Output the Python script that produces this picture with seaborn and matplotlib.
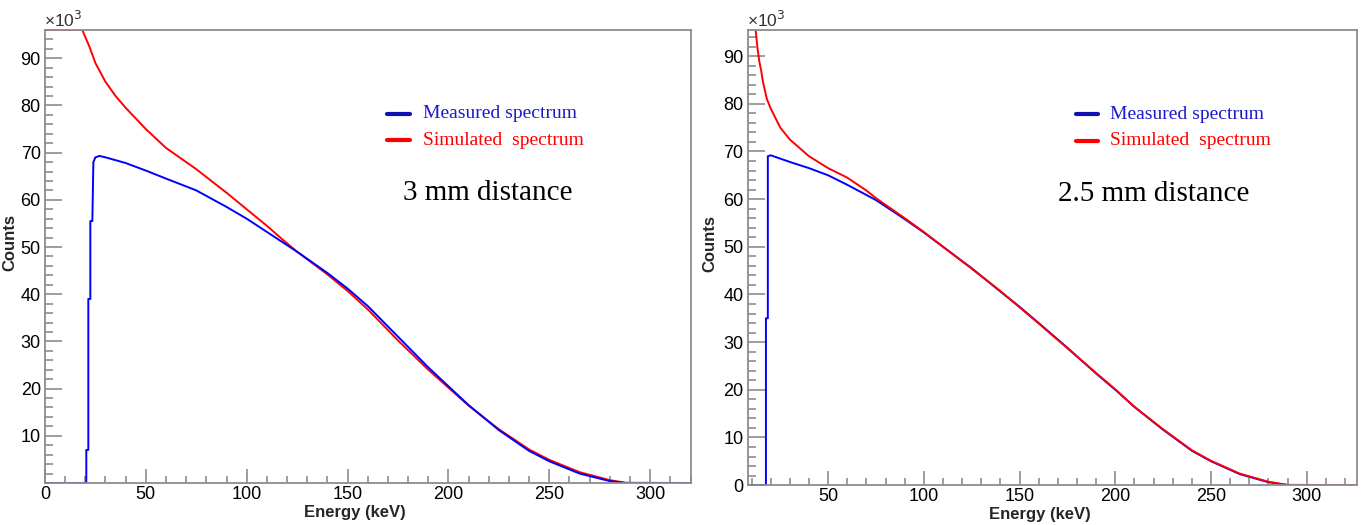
import numpy as np
import pandas as pd
import matplotlib
matplotlib.use("Agg")
import matplotlib.pyplot as plt
import seaborn as sns
from matplotlib.ticker import MultipleLocator

# 資料 (counts in units of 10^3, energy in keV)
# 3 mm distance
e_meas_3 = [0, 20.5, 20.5, 21.5, 21.5, 22.5, 22.5, 23.5, 24, 25, 27, 30, 40, 50, 60, 75,
            90, 100, 110, 125, 140, 150, 160, 175, 190, 200, 210, 225, 240, 250, 265, 280, 288, 320]
c_meas_3 = [0, 0, 7, 7, 39, 39, 55.5, 55.5, 68, 69, 69.3, 69, 67.8, 66.2, 64.5, 62,
            58.5, 56, 53.2, 49, 44.5, 41.2, 37.5, 31, 24.5, 20.5, 16.5, 11.2, 6.8, 4.6, 2, 0.4, 0, 0]
e_sim_3 = [0, 18.5, 22, 25, 30, 35, 40, 50, 60, 75, 90, 100, 110, 118, 125, 140,
           150, 160, 175, 190, 200, 210, 225, 240, 250, 265, 280, 288, 320]
c_sim_3 = [96, 96, 92.5, 89, 85, 82, 79.5, 75, 71, 66.5, 61.5, 58, 54.5, 51.5, 49, 44.2,
           40.7, 36.8, 30.2, 24, 20.2, 16.4, 11.4, 7.1, 4.9, 2.3, 0.6, 0.05, 0]

# 2.5 mm distance
e_meas_25 = [8, 17.5, 17.5, 18.5, 18.5, 20, 25, 30, 40, 50, 60, 75, 90, 100, 110, 125,
             140, 150, 160, 175, 190, 200, 210, 225, 240, 250, 265, 280, 290, 326]
c_meas_25 = [0, 0, 35, 35, 69, 69.2, 68.5, 67.8, 66.5, 65, 63, 59.8, 55.8, 53, 50, 45.5,
             40.6, 37.4, 34, 28.8, 23.4, 20, 16.4, 11.6, 7.2, 5, 2.3, 0.6, 0, 0]
e_sim_25 = [12, 13, 14, 15, 16, 18, 20, 25, 30, 40, 50, 60, 70, 75, 90, 100, 110, 125,
            140, 150, 160, 175, 190, 200, 210, 225, 240, 250, 265, 280, 290, 326]
c_sim_25 = [96, 92, 89, 87, 84.5, 81, 79, 75, 72.5, 69, 66.5, 64.5, 61.8, 60.2, 56, 53.1, 50, 45.4,
            40.7, 37.3, 33.9, 28.7, 23.5, 20.1, 16.4, 11.7, 7.3, 5.1, 2.4, 0.7, 0.05, 0]

panels = [
    dict(meas=(e_meas_3, c_meas_3), sim=(e_sim_3, c_sim_3), xlim=(0, 320), ylim=(0, 96),
         label="3 mm distance", pos=[0.033, 0.080, 0.474, 0.863]),
    dict(meas=(e_meas_25, c_meas_25), sim=(e_sim_25, c_sim_25), xlim=(8, 326), ylim=(0, 95.5),
         label="2.5 mm distance", pos=[0.549, 0.076, 0.447, 0.867]),
]

sns.set_style("white")
plt.rcParams["font.family"] = ["Liberation Sans", "DejaVu Sans"]

fig = plt.figure(figsize=(13.62, 5.25), dpi=100)
frame_col = "#8c8c8c"

for i, p in enumerate(panels):
    ax = fig.add_axes(p["pos"])
    df_m = pd.DataFrame({"Energy": p["meas"][0], "Counts": p["meas"][1]})
    df_s = pd.DataFrame({"Energy": p["sim"][0], "Counts": p["sim"][1]})
    # 3 mm: red drawn first, blue on top; 2.5 mm: red on top
    order = [(df_s, "#ff0000"), (df_m, "#0000ff")] if i == 0 else [(df_m, "#0000ff"), (df_s, "#ff0000")]
    for d, c in order:
        sns.lineplot(data=d, x="Energy", y="Counts", color=c, lw=1.4, ax=ax,
                     estimator=None, sort=False)
    ax.set_xlim(*p["xlim"])
    ax.set_ylim(*p["ylim"])
    ax.xaxis.set_major_locator(MultipleLocator(50))
    ax.xaxis.set_minor_locator(MultipleLocator(10))
    ax.yaxis.set_major_locator(MultipleLocator(10))
    ax.yaxis.set_minor_locator(MultipleLocator(2))
    ax.tick_params(which="both", direction="in", colors=frame_col, labelcolor="black",
                   labelsize=13, bottom=True, left=True, top=False, right=False, width=1.2)
    ax.tick_params(axis="x", which="major", length=10, pad=2)
    ax.tick_params(axis="x", which="minor", length=5)
    ax.tick_params(axis="y", which="major", length=12, pad=3)
    ax.tick_params(axis="y", which="minor", length=6)
    if i == 0:
        ax.set_yticks([10, 20, 30, 40, 50, 60, 70, 80, 90])
    for s in ax.spines.values():
        s.set_color(frame_col)
        s.set_linewidth(1.3)
    ax.set_xlabel("Energy (keV)", fontsize=12, fontweight="bold")
    ax.xaxis.set_label_coords(0.48, -0.048)
    ax.set_ylabel("Counts", fontsize=12, fontweight="bold")
    ax.yaxis.set_label_coords(-0.042 if i == 0 else -0.05, 0.53)
    ax.text(-0.002, 1.0, "×10$^3$", transform=ax.transAxes, ha="left", va="bottom",
            fontsize=12.5, color="#333333")

    # legend
    x0 = 0.53 if i == 0 else 0.54
    ax.plot([x0, x0 + 0.035], [0.815, 0.815], color="#1010b0", lw=3, transform=ax.transAxes)
    ax.plot([x0, x0 + 0.035], [0.757, 0.757], color="#ff0000", lw=3, transform=ax.transAxes)
    ax.text(x0 + 0.055, 0.815, "Measured spectrum", transform=ax.transAxes, va="center",
            fontsize=14, color="#1a1acc", family="Liberation Serif")
    ax.text(x0 + 0.055, 0.757, "Simulated  spectrum", transform=ax.transAxes, va="center",
            fontsize=14, color="#ff0000", family="Liberation Serif")
    ax.text(0.555 if i == 0 else 0.51, 0.64, p["label"], transform=ax.transAxes, va="center",
            fontsize=21, color="black", family="Liberation Serif")

fig.savefig("out.png", dpi=100)
